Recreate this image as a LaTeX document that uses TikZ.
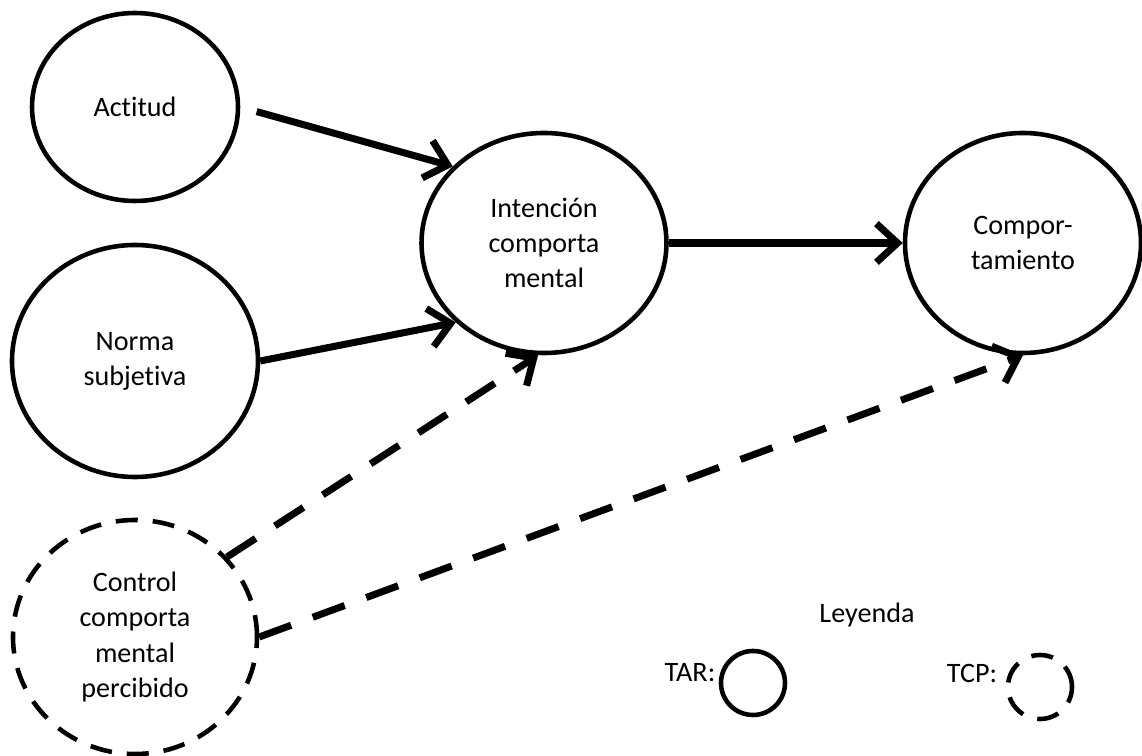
\documentclass[tikz,border=0pt]{standalone}
\usepackage{fontspec}
\setmainfont{Carlito}[Ligatures=NoCommon]
\usetikzlibrary{arrows.meta,shapes.geometric}

\begin{document}
\begin{tikzpicture}[
  >={Straight Barb[length=6pt,width=11pt]},
  every node/.style={font=\fontsize{8}{10}\selectfont, align=center},
  concept/.style={draw, ellipse, line width=1.3pt, inner sep=0pt},
  tcpconcept/.style={concept, dash pattern=on 0.22cm off 0.15cm},
  link/.style={->, line width=2pt},
  tcplink/.style={link, dash pattern=on 0.34cm off 0.23cm},
]
  \useasboundingbox (0,0) rectangle (11.42,7.56);

  % TAR constructs
  \node[concept, minimum width=2.06cm, minimum height=1.88cm] (actitud) at (1.35, 6.49) {Actitud};
  \node[concept, minimum width=2.46cm, minimum height=2.32cm] (norma) at (1.35, 3.95) {Norma\\subjetiva};
  \node[concept, minimum width=2.45cm, minimum height=2.20cm] (intencion) at (5.44, 5.13) {Intención\\comporta\\mental};
  \node[concept, minimum width=2.36cm, minimum height=2.20cm] (comport) at (10.23, 5.13) {Compor-\\tamiento};

  % TCP construct
  \node[tcpconcept, minimum width=2.44cm, minimum height=2.34cm] (control) at (1.35, 1.19) {Control\\comporta\\mental\\percibido};

  % Legend
  \node (leyenda) at (8.67, 1.41) {Leyenda};
  \node (tarlabel) at (6.90, 0.83) {TAR:};
  \node[concept, minimum size=0.64cm] (tar) at (7.53, 0.73) {};
  \node (tcplabel) at (9.72, 0.83) {TCP:};
  \node[tcpconcept, minimum size=0.64cm] (tcp) at (10.40, 0.69) {};

  % TAR paths
  \draw[link, shorten <=0.17cm] (actitud.east) -- (intencion.140);
  \draw[link] (norma.east) -- (intencion.222);
  \draw[link] (intencion.east) -- (comport.west);

  % TCP paths
  \draw[tcplink] (control.41) -- (intencion.267);
  \draw[tcplink] (control.east) -- (comport.south);
\end{tikzpicture}
\end{document}
